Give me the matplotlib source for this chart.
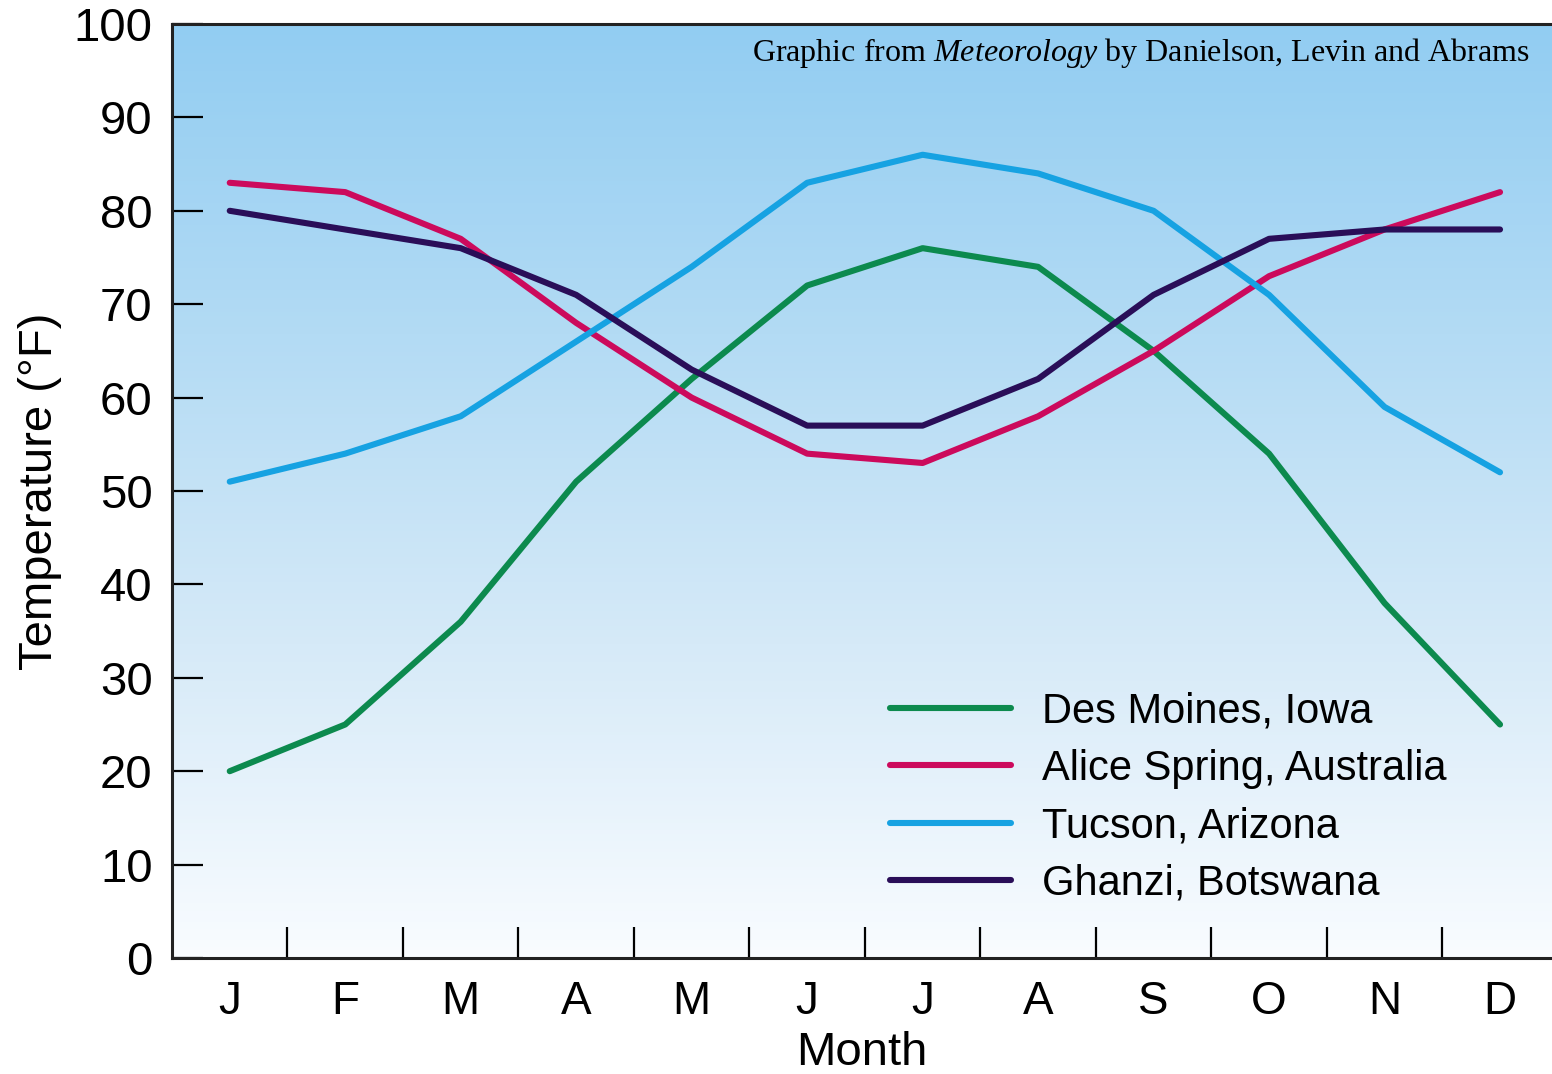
import numpy as np
import matplotlib.pyplot as plt
from matplotlib.colors import LinearSegmentedColormap

months = ['J', 'F', 'M', 'A', 'M', 'J', 'J', 'A', 'S', 'O', 'N', 'D']
des_moines = [20, 25, 36, 51, 62, 72, 76, 74, 65, 54, 38, 25]
alice_spring = [83, 82, 77, 68, 60, 54, 53, 58, 65, 73, 78, 82]
tucson = [51, 54, 58, 66, 74, 83, 86, 84, 80, 71, 59, 52]
ghanzi = [80, 78, 76, 71, 63, 57, 57, 62, 71, 77, 78, 78]

series = [
    ('Des Moines, Iowa', des_moines, '#0c8a4e'),
    ('Alice Spring, Australia', alice_spring, '#cc0a5c'),
    ('Tucson, Arizona', tucson, '#16a2e2'),
    ('Ghanzi, Botswana', ghanzi, '#2a0e58'),
]

plt.rcParams['font.family'] = ['Liberation Sans', 'DejaVu Sans']
plt.rcParams['mathtext.fontset'] = 'custom'
plt.rcParams['mathtext.rm'] = 'Liberation Serif'
plt.rcParams['mathtext.it'] = 'Liberation Serif:italic'

fig = plt.figure(figsize=(15.52, 10.74), dpi=100)
ax = fig.add_axes([172 / 1552, 116 / 1074, 1 - 172 / 1552, (958 - 24) / 1074])

x = np.arange(len(months))
xlim = (-0.5, 11.45)
ylim = (0, 100)

# sky-like vertical gradient behind the lines
bg = LinearSegmentedColormap.from_list('sky', ['#f9fcff', '#d6eaf8', '#b3dbf4', '#92cdf2'])
grad = np.linspace(0, 1, 256).reshape(-1, 1)
ax.imshow(grad, cmap=bg, origin='lower', aspect='auto',
          extent=[xlim[0], xlim[1], ylim[0], ylim[1]], zorder=0)

for name, vals, col in series:
    ax.plot(x, vals, color=col, lw=4.4, label=name, zorder=3, solid_capstyle='round')

ax.set_xlim(*xlim)
ax.set_ylim(*ylim)

ax.set_yticks(np.arange(0, 101, 10))
ax.tick_params(axis='y', direction='in', length=22, width=1.6, labelsize=34, pad=14)

ax.set_xticks(np.arange(0.5, 11, 1))
ax.set_xticklabels([])
ax.set_xticks(x, minor=True)
ax.set_xticklabels(months, minor=True)
ax.tick_params(axis='x', which='major', direction='in', length=22, width=1.6)
ax.tick_params(axis='x', which='minor', length=0, labelsize=33, pad=16)

for s in ['left', 'bottom', 'top']:
    ax.spines[s].set_linewidth(2.2)
    ax.spines[s].set_color('#222222')
ax.spines['right'].set_visible(False)

ax.set_ylabel('Temperature (°F)', fontsize=34, labelpad=8)
ax.set_xlabel('Month', fontsize=34, labelpad=5)

ax.text(0.984, 0.987, r'Graphic from $\it{Meteorology}$ by Danielson, Levin and Abrams',
        transform=ax.transAxes, ha='right', va='top', fontsize=23,
        family=['Liberation Serif', 'DejaVu Serif'], zorder=5)

ax.legend(loc='lower right', bbox_to_anchor=(0.951, 0.018), frameon=False, fontsize=30,
          handlelength=2.9, handletextpad=0.75, labelspacing=0.42)

fig.savefig('out.png', dpi=100)
